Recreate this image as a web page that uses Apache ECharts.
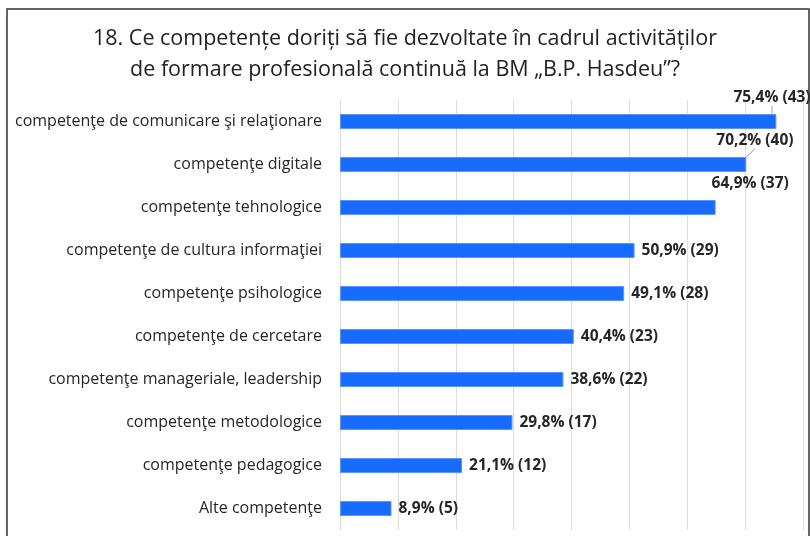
<!DOCTYPE html>
<html>
<head>
<meta charset="utf-8">
<script src="https://cdn.jsdelivr.net/npm/echarts@6/dist/echarts.min.js"></script>
<style>
  html, body { margin: 0; padding: 0; background: #fff; }
  #chart { width: 810px; height: 536px; }
</style>
</head>
<body>
<div id="chart"></div>
<script>
// survey answers, top to bottom
var categories = [
    'competenţe de comunicare şi relaţionare',
    'competenţe digitale',
    'competenţe tehnologice',
    'competenţe de cultura informaţiei',
    'competenţe psihologice',
    'competenţe de cercetare',
    'competenţe manageriale, leadership',
    'competenţe metodologice',
    'competenţe pedagogice',
    'Alte competenţe'
];
var percents = [75.4, 70.2, 64.9, 50.9, 49.1, 40.4, 38.6, 29.8, 21.1, 8.9];
var counts = [43, 40, 37, 29, 28, 23, 22, 17, 12, 5];
var xTicks = [0, 10, 20, 30, 40, 50, 60, 70, 80];

var titleLines = [
    '18. Ce competențe doriți să fie dezvoltate în cadrul activităților',
    'de formare profesională continuă la BM „B.P. Hasdeu”?'
];

var myChart = echarts.init(document.getElementById('chart'), null, { renderer: 'canvas' });

// first labels sit above the bar end (like in the original excel chart)
var raised = { 0: -43, 1: -30, 2: -4 };

var option = {
    backgroundColor: '#fff',
    animation: false,
    title: {
        text: titleLines.join('\n'),
        left: 'center',
        top: 18,
        textStyle: {
            fontFamily: 'Open Sans',
            fontWeight: 'normal',
            fontSize: 21.5,
            lineHeight: 31,
            color: '#222'
        }
    },
    graphic: [{
        type: 'rect',
        shape: { x: 7, y: 9, width: 802, height: 560 },
        style: { fill: 'none', stroke: '#333', lineWidth: 1.5 },
        z: 100
    }],
    grid: { left: 340, right: 7, top: 100, bottom: 6 },
    xAxis: {
        type: 'value',
        min: xTicks[0],
        max: xTicks[xTicks.length - 1],
        interval: 10,
        axisLabel: { show: false },
        axisLine: { show: false },
        axisTick: { show: false },
        splitLine: { lineStyle: { color: '#dcdcdc', width: 1 } }
    },
    yAxis: {
        type: 'category',
        inverse: true,
        data: categories,
        axisLine: { show: true, lineStyle: { color: '#dcdcdc' } },
        axisTick: { show: false },
        axisLabel: {
            margin: 18,
            fontFamily: 'Open Sans',
            fontSize: 16,
            color: '#262626'
        }
    },
    series: [{
        type: 'bar',
        barWidth: 15,
        data: percents.map(function (v, i) {
            // only the two top labels have a leader line
            return { value: v, labelLine: { show: i < 2 } };
        }),
        itemStyle: { color: '#176bff', borderColor: '#5b93ff', borderWidth: 1 },
        label: {
            show: true,
            position: 'right',
            distance: 7,
            fontFamily: 'Open Sans',
            fontWeight: 'bold',
            fontSize: 15.5,
            color: '#262626',
            formatter: function (p) {
                return p.value.toFixed(1).replace('.', ',') + '% (' + counts[p.dataIndex] + ')';
            }
        },
        labelLine: { show: true, lineStyle: { color: '#9a9a9a', width: 1 } },
        labelLayout: function (params) {
            var shift = raised[params.dataIndex];
            if (shift === undefined) return {};
            var r = params.rect;
            return {
                x: r.x + r.width + shift,
                y: r.y - 16,
                align: 'left',
                verticalAlign: 'middle'
            };
        }
    }]
};

myChart.setOption(option);
</script>
</body>
</html>
